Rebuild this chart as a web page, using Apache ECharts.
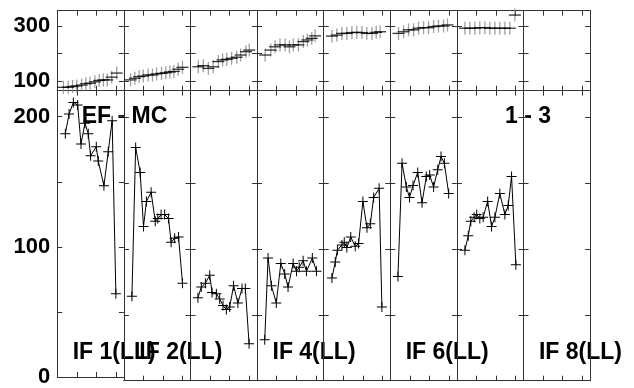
<!DOCTYPE html>
<html><head><meta charset="utf-8">
<script src="https://cdn.jsdelivr.net/npm/echarts@6/dist/echarts.min.js"></script>
<style>html,body{margin:0;padding:0;background:#fff}#c{width:634px;height:388px}</style>
</head><body><div id="c"></div><script>
// ---------- data ----------
const ifLabels = ['IF 1(LL)', 'IF 2(LL)', '', 'IF 4(LL)', '', 'IF 6(LL)', '', 'IF 8(LL)'];
const baselineLabel = 'EF - MC';
const antennaLabel = '1 - 3';
const topTickValues = [100, 200, 300];
const topLabelValues = [100, 300];
const botTickValues = [0, 50, 100, 150, 200];
const botLabelValues = [0, 100, 200];

// lower panel (amplitude) : time offset within IF window, value
const botT1 = [0.41,0.60,0.82,1.04,1.21,1.41,1.58,1.70,1.99,2.09,2.38,2.60,2.80,2.99];
const botA1 = [187,202,211,209,179,195,187,170,177,166,147,173,197,64];
const botT2 = [0.41,0.60,0.83,1.00,1.15,1.39,1.60,1.73,1.90,2.08,2.28,2.41,2.59,2.79,2.99];
const botA2 = [64,177,158,117,136,143,121,123,126,126,123,105,108,109,74];
const botT3 = [0.38,0.55,0.76,0.98,1.10,1.32,1.49,1.66,1.83,2.00,2.20,2.42,2.63,2.80,2.99];
const botA3 = [63,71,74,80,67,66,62,57,54,56,72,59,70,70,28];
const botT4 = [0.39,0.56,0.73,0.98,1.21,1.41,1.58,1.84,2.01,2.15,2.35,2.52,2.82,3.03];
const botA4 = [31,93,72,59,89,81,71,89,83,86,91,83,93,83];
const botT5 = [0.42,0.59,0.70,0.93,1.05,1.18,1.38,1.61,1.78,2.00,2.21,2.38,2.55,2.83,2.97];
const botA5 = [78,90,99,103,105,101,109,102,104,136,116,119,139,146,56];
const botT6 = [0.39,0.60,0.82,0.98,1.16,1.40,1.62,1.84,2.01,2.21,2.42,2.59,2.76,2.98];
const botA6 = [79,165,147,139,148,158,135,155,156,147,160,170,165,142];
const botT7 = [0.41,0.58,0.71,0.88,1.01,1.17,1.34,1.57,1.77,1.94,2.19,2.45,2.62,2.79,3.01];
const botA7 = [99,110,121,124,126,123,124,136,117,124,142,126,133,155,88];
const botT8 = [];
const botA8 = [];

// upper panel : time offset, value
const topT1 = [0.31,0.56,0.78,0.99,1.24,1.46,1.67,1.92,2.14,2.35,2.55,2.78,3.03];
const topV1 = [77,77,80,82,85,90,92,97,102,104,104,114,129];
const topT2 = [0.34,0.56,0.78,0.99,1.24,1.46,1.67,1.92,2.14,2.35,2.55,2.77,2.99];
const topV2 = [104,110,116,118,122,122,126,128,130,133,135,143,150];
const topT3 = [0.40,0.65,0.91,1.16,1.42,1.64,1.85,2.10,2.36,2.56,2.83,3.00];
const topV3 = [152,156,146,152,171,177,179,183,187,195,207,213];
const topT4 = [0.41,0.70,0.92,1.17,1.43,1.65,1.85,2.11,2.36,2.57,2.79,2.96];
const topV4 = [195,213,225,232,232,225,232,232,244,250,256,265];
const topT5 = [0.42,0.67,0.93,1.18,1.44,1.69,1.95,2.20,2.46,2.68,2.88];
const topV5 = [264,268,274,274,277,278,277,274,274,278,280];
const topT6 = [0.42,0.68,0.93,1.19,1.44,1.70,1.95,2.21,2.46,2.72,2.92];
const topV6 = [274,280,287,287,293,295,295,299,301,301,305];
const topT7 = [0.41,0.66,0.92,1.17,1.43,1.68,1.94,2.19,2.45,2.70,2.96];
const topV7 = [293,293,293,295,295,293,293,293,293,293,341];
const topT8 = [];
const topV8 = [];

const botT = [botT1,botT2,botT3,botT4,botT5,botT6,botT7,botT8];
const botA = [botA1,botA2,botA3,botA4,botA5,botA6,botA7,botA8];
const topT = [topT1,topT2,topT3,topT4,topT5,topT6,topT7,topT8];
const topV = [topV1,topV2,topV3,topV4,topV5,topV6,topV7,topV8];

// ---------- layout ----------
const L0 = 57.3, CW = 66.6;
const TOP_Y = 10.7, TOP_H = 80, BOT_Y = 90.7, BOT_H = 290;
const FONT = '"Liberation Sans", Arial, sans-serif';
const lineCol = '#333';

const grid = [], xAxis = [], yAxis = [], series = [], graphic = [];
const zip = (a, b) => a.map((v, i) => [v, b[i]]);

function addCell(col, row) {
  const gi = grid.length;
  const isTop = row === 0;
  grid.push({left: L0 + col * CW, width: CW, top: isTop ? TOP_Y : BOT_Y, height: isTop ? TOP_H : BOT_H});
  const xBase = {type: 'value', gridIndex: gi, min: 0, max: 3.4, interval: 1,
    axisLine: {show: true, onZero: false, lineStyle: {color: lineCol, width: 1}},
    axisTick: {show: true, inside: true, length: 5, lineStyle: {color: lineCol}},
    axisLabel: {show: false}, splitLine: {show: false}};
  xAxis.push(Object.assign({}, xBase, {position: 'bottom'}));
  xAxis.push(Object.assign({}, xBase, {position: 'top'}));
  const ticks = isTop ? topTickValues : botTickValues;
  const labs = isTop ? topLabelValues : botLabelValues;
  const yBase = {type: 'value', gridIndex: gi, min: isTop ? 64.5 : 0, max: isTop ? 357 : 220,
    axisLine: {show: true, onZero: false, lineStyle: {color: lineCol, width: 1}},
    axisTick: {show: true, inside: true, length: 5, customValues: ticks, lineStyle: {color: lineCol}},
    splitLine: {show: false}};
  yAxis.push(Object.assign({}, yBase, {position: 'left',
    axisLabel: {show: col === 0, customValues: labs, fontSize: 22, fontWeight: 'bold', fontFamily: FONT, color: '#000', margin: 7}}));
  yAxis.push(Object.assign({}, yBase, {position: 'right', axisLabel: {show: false}}));
  const xi = gi * 2, yi = gi * 2;
  if (isTop) {
    const d = zip(topT[col], topV[col]);
    series.push({type: 'scatter', xAxisIndex: xi, yAxisIndex: yi, data: d, symbol: 'rect', symbolSize: [1.3, 13],
      itemStyle: {color: '#888'}, silent: true, z: 2});
    series.push({type: 'scatter', xAxisIndex: xi, yAxisIndex: yi, data: d, symbol: 'rect', symbolSize: [12, 1.3],
      itemStyle: {color: '#000'}, silent: true, z: 3});
  } else {
    const d = zip(botT[col], botA[col]);
    series.push({type: 'line', xAxisIndex: xi, yAxisIndex: yi, data: d,
      symbol: 'path://M0,4.5H10V5.5H0Z M4.5,0H5.5V10H4.5Z', symbolSize: 10, showAllSymbol: true,
      lineStyle: {color: '#000', width: 1}, itemStyle: {color: '#000'}, silent: true, animation: false});
    if (ifLabels[col]) {
      graphic.push({type: 'text', left: L0 + col * CW + 15.4, top: 341, silent: true,
        style: {text: ifLabels[col], font: 'bold 23px ' + FONT, fill: '#000'}});
    }
  }
}
for (let c = 0; c < 8; c++) { addCell(c, 0); addCell(c, 1); }
graphic.push({type: 'text', left: 81.7, top: 105, silent: true,
  style: {text: baselineLabel, font: 'bold 23px ' + FONT, fill: '#000'}});
graphic.push({type: 'text', left: 505, top: 105, silent: true,
  style: {text: antennaLabel, font: 'bold 23px ' + FONT, fill: '#000'}});

const chart = echarts.init(document.getElementById('c'), null, {renderer: 'canvas'});
chart.setOption({animation: false, backgroundColor: '#fff', grid, xAxis, yAxis, series, graphic});
</script></body></html>
